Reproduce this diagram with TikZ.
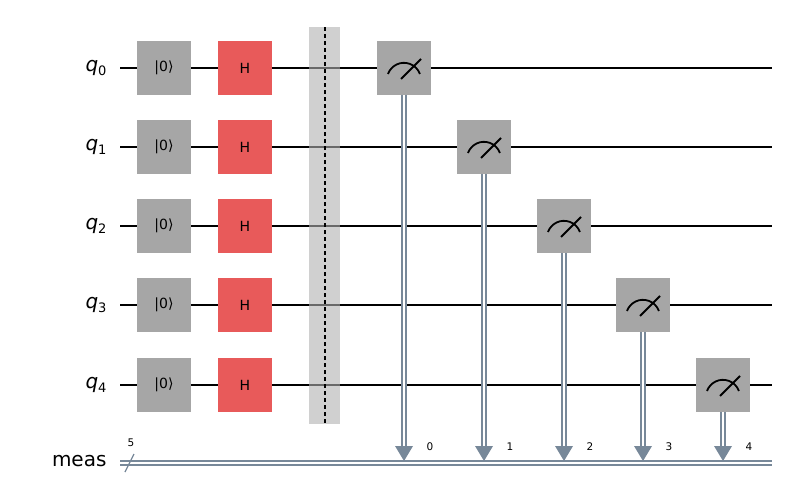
\documentclass[tikz,border=0pt]{standalone}
\usepackage{fontspec}
\setmainfont{DejaVu Sans}
\usetikzlibrary{arrows.meta}
\definecolor{gategray}{HTML}{A6A6A6}
\definecolor{hred}{HTML}{E85A5A}
\definecolor{clsc}{HTML}{778899}
\definecolor{barr}{HTML}{B0B0B0}
\newcommand{\qsub}[1]{{\itshape q}\raisebox{-4pt}{\fontsize{13}{13}\selectfont #1}}
\begin{document}
\begin{tikzpicture}[x=1pt,y=-1pt,
  wire/.style={line width=1.6pt,black},
  cwire/.style={double=white,draw=clsc,double distance=2.2pt,line width=1.6pt},
  gate/.style={minimum width=54pt,minimum height=54pt,inner sep=0pt,font=\fontsize{14}{14}\selectfont},
  reset/.style={gate,fill=gategray},
  had/.style={gate,fill=hred},
  meas/.style={gate,fill=gategray},
  qlab/.style={anchor=east,font=\fontsize{20}{20}\selectfont},
  small/.style={font=\fontsize{10.5}{10.5}\selectfont}]
\useasboundingbox (0,0) rectangle (806,490);
\foreach \i/\y in {0/68,1/147,2/226,3/305,4/385}{
  \coordinate (ws\i) at (120,\y); \coordinate (we\i) at (772,\y);
  \draw[wire] (ws\i) -- (we\i);
  \node[qlab] (l\i) at (110,\y) {\qsub{\i}};
  \node[reset] (r\i) at (164,\y) {|0⟩};
  \node[had] (h\i) at (245,\y) {H};
}
\coordinate (ms) at (120,463); \coordinate (me) at (772,463);
\draw[cwire] (ms) -- (me);
\node[qlab] (ml) at (110,461) {meas};
\draw[clsc,line width=1.2pt] (125,472) -- (134,454);
\node[small] (five) at (131,443) {5};
% barrier
\fill[barr,fill opacity=0.6] (309,27) rectangle (340,424);
\draw[black,dash pattern=on 4pt off 3pt,line width=1.2pt] (325,27) -- (325,424);
\foreach \i/\x/\y in {0/404/68,1/484/147,2/564/226,3/643/305,4/723/385}{
  \node[meas] (m\i) at (\x,\y) {};
  \draw[line width=1.8pt] ([xshift=-16pt,yshift=-6pt]m\i.center) arc[start angle=160,end angle=20,radius=17pt];
  \draw[line width=1.8pt] ([xshift=-3pt,yshift=-11pt]m\i.center) -- ([xshift=17pt,yshift=9pt]m\i.center);
  \coordinate (t\i) at (\x,461);
  \draw[cwire] (m\i.south) -- (\x,449);
  \fill[clsc] (\x-9,446) -- (\x+9,446) -- (\x,461) -- cycle;
  \node[small] (n\i) at (\x+26,447) {\i};
}
\end{tikzpicture}
\end{document}
